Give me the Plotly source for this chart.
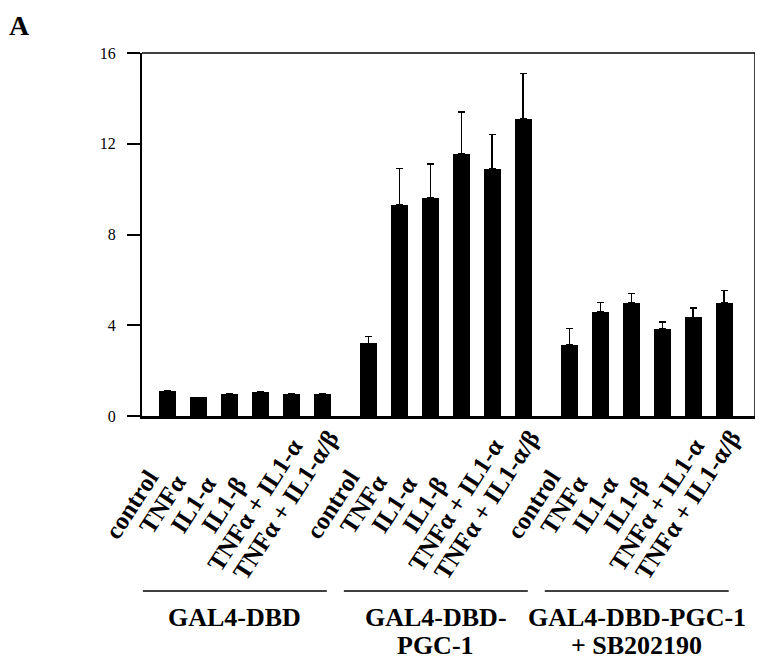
import plotly.graph_objects as go

conditions = ["control", "TNFα", "IL1-α", "IL1-β", "TNFα + IL1-α", "TNFα + IL1-α/β"]
group_titles = [["GAL4-DBD"], ["GAL4-DBD-", "PGC-1"], ["GAL4-DBD-PGC-1", "+ SB202190"]]

values_dbd = [1.1, 0.82, 0.98, 1.05, 0.98, 0.98]
values_pgc = [3.2, 9.3, 9.6, 11.55, 10.9, 13.1]
values_sb = [3.15, 4.6, 5.0, 3.85, 4.35, 5.0]

err_dbd = [0, 0, 0, 0, 0, 0]
err_pgc = [0.3, 1.6, 1.5, 1.85, 1.5, 2.0]
err_sb = [0.7, 0.4, 0.4, 0.3, 0.4, 0.53]

y_ticks = [0, 4, 8, 12, 16]

all_values = [values_dbd, values_pgc, values_sb]
all_errs = [err_dbd, err_pgc, err_sb]

GROUP_STEP = 6.5
SERIF = "Liberation Serif"

xs, ys, es, labels = [], [], [], []
for g, (vals, errs) in enumerate(zip(all_values, all_errs)):
    for i, (v, e) in enumerate(zip(vals, errs)):
        xs.append(g * GROUP_STEP + i)
        ys.append(v)
        es.append(e)
        labels.append(conditions[i])

fig = go.Figure()
fig.add_trace(go.Bar(
    x=xs, y=ys, width=0.55,
    marker=dict(color="black", line=dict(width=0)),
    error_y=dict(type="data", array=es, arrayminus=[0] * len(es), symmetric=False,
                 color="black", thickness=1.5, width=3.5),
    showlegend=False,
))

shapes = []
annotations = []

# rotated condition labels
for x, lab in zip(xs, labels):
    annotations.append(dict(xref="x", yref="paper", x=x, y=-0.245, xshift=-36,
                            text=lab, showarrow=False, textangle=-57,
                            xanchor="center", yanchor="middle",
                            font=dict(family=SERIF, size=25, color="black", weight="bold")))

n = len(conditions)
for g, title in enumerate(group_titles):
    x0 = g * GROUP_STEP - 0.8
    x1 = g * GROUP_STEP + (n - 1) + 0.15
    shapes.append(dict(type="line", xref="x", yref="paper", x0=x0, x1=x1, y0=-0.482, y1=-0.482,
                       line=dict(color="black", width=1.5)))
    xm = (x0 + x1) / 2
    for k, line in enumerate(title):
        annotations.append(dict(xref="x", yref="paper", x=xm, y=-0.556 - 0.077 * k,
                                text=line, showarrow=False, xanchor="center", yanchor="middle",
                                font=dict(family=SERIF, size=26, color="black", weight="bold")))

# top and right frame lines
shapes.append(dict(type="line", xref="paper", yref="paper", x0=0, x1=1, y0=1, y1=1,
                   line=dict(color="black", width=1.5)))
shapes.append(dict(type="line", xref="paper", yref="paper", x0=1, x1=1, y0=0, y1=1,
                   line=dict(color="black", width=1.5)))

annotations.append(dict(xref="paper", yref="paper", x=-0.2186, y=1.122, text="A", showarrow=False,
                        xanchor="left", yanchor="top", borderpad=0,
                        font=dict(family=SERIF, size=28, color="black", weight="bold")))

fig.update_layout(
    width=755, height=653,
    margin=dict(l=134, r=8, t=45, b=245),
    plot_bgcolor="white", paper_bgcolor="white",
    shapes=shapes, annotations=annotations,
    xaxis=dict(range=[-0.83, 19.0], showticklabels=False, ticks="",
               showline=True, linecolor="black", linewidth=3,
               showgrid=False, zeroline=False),
    yaxis=dict(range=[0, 16], tickmode="array", tickvals=y_ticks, ticks="outside",
               ticklen=13, tickwidth=2, tickcolor="black", showline=True, linecolor="black",
               linewidth=2, showgrid=False, zeroline=False, ticklabelstandoff=8,
               tickfont=dict(family=SERIF, size=16, color="black")),
    bargap=0,
)

fig.write_html("out.html")
